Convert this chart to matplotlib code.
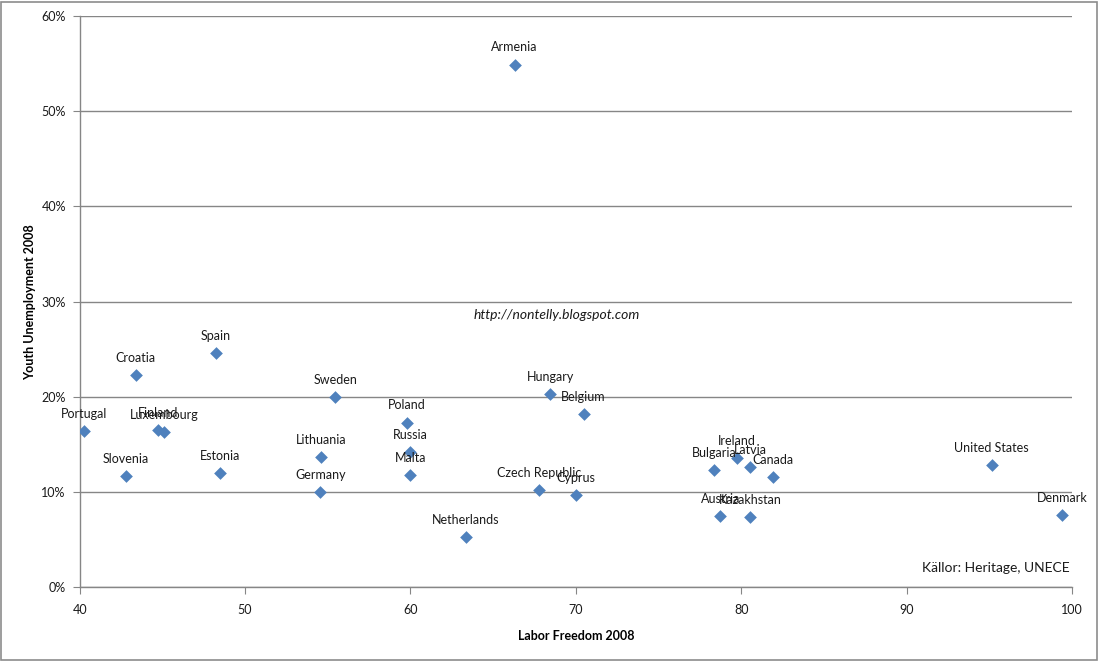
import matplotlib
matplotlib.use("Agg")
import matplotlib.pyplot as plt
from matplotlib.patches import Rectangle
from matplotlib.ticker import FuncFormatter

countries = ["Armenia", "Spain", "Croatia", "Portugal", "Finland", "Luxembourg", "Slovenia",
             "Estonia", "Sweden", "Lithuania", "Germany", "Poland", "Russia", "Malta",
             "Netherlands", "Hungary", "Belgium", "Czech Republic", "Cyprus", "Bulgaria",
             "Ireland", "Latvia", "Canada", "Austria", "Kazakhstan", "United States", "Denmark"]
labor_freedom = [66.3, 48.25, 43.4, 40.26, 44.74, 45.12, 42.78,
                 48.5, 55.45, 54.58, 54.55, 59.8, 60.0, 60.0,
                 63.35, 68.45, 70.47, 67.77, 70.0, 78.38,
                 79.74, 80.55, 81.92, 78.74, 80.55, 95.14, 99.42]
youth_unemp = [54.9, 24.6, 22.3, 16.4, 16.5, 16.3, 11.7,
               12.0, 20.0, 13.7, 10.0, 17.3, 14.2, 11.8,
               5.3, 20.3, 18.2, 10.2, 9.7, 12.3,
               13.6, 12.6, 11.6, 7.45, 7.4, 12.8, 7.56]
x_ticks = [40, 50, 60, 70, 80, 90, 100]
y_ticks = [0, 10, 20, 30, 40, 50, 60]

FONT = "Lato"
plt.rcParams['font.family'] = [FONT, 'DejaVu Sans']

W, H = 1099, 661
fig = plt.figure(figsize=(W / 100, H / 100), dpi=100)
fig.patches.append(Rectangle((1 / W, 1 / H), 1 - 3 / W, 1 - 3 / H, transform=fig.transFigure,
                             fill=False, edgecolor="#8c8c8c", linewidth=1.2))

left, right = 79.7 / W, 1072 / W
bottom, top = 1 - 587.3 / H, 1 - 16 / H
ax = fig.add_axes([left, bottom, right - left, top - bottom])

ax.scatter(labor_freedom, youth_unemp, marker="D", s=42, color="#4F81BD", zorder=3, linewidths=0)
for name, xv, yv in zip(countries, labor_freedom, youth_unemp):
    ax.annotate(name, (xv, yv), xytext=(0, 8), textcoords="offset points",
                ha="center", va="bottom", fontsize=9, color="#1a1a1a", zorder=4)

ax.set_xlim(40, 100)
ax.set_ylim(0, 60)
ax.set_xticks(x_ticks)
ax.set_yticks(y_ticks)
ax.yaxis.set_major_formatter(FuncFormatter(lambda v, p: f"{int(v)}%"))
ax.grid(axis="y", color="#868686", linewidth=1.0, zorder=0)
ax.set_axisbelow(True)
for s in ["top", "right"]:
    ax.spines[s].set_visible(False)
for s in ["left", "bottom"]:
    ax.spines[s].set_color("#868686")
    ax.spines[s].set_linewidth(1.0)
ax.tick_params(axis="both", direction="out", length=5, color="#868686", labelsize=9,
               labelcolor="#1a1a1a")
ax.tick_params(axis="x", pad=7)
ax.tick_params(axis="y", pad=5)

ax.set_xlabel("Labor Freedom 2008", fontsize=9, fontweight="bold", labelpad=10)
ax.set_ylabel("Youth Unemployment 2008", fontsize=9, fontweight="bold", labelpad=4)

fig.text(557 / W, 1 - 315 / H, "http://nontelly.blogspot.com", ha="center", va="center",
         fontsize=10, style="italic", color="#1a1a1a")
fig.text(996 / W, 1 - 568 / H, "Källor: Heritage, UNECE", ha="center", va="center",
         fontsize=10, color="#1a1a1a")

fig.savefig("out.png", dpi=100)
